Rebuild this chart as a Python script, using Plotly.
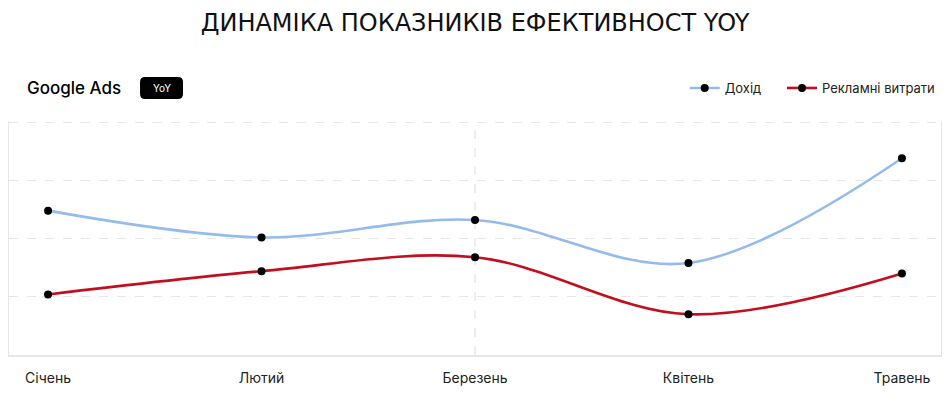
import plotly.graph_objects as go

# Data
months = ["Січень", "Лютий", "Березень", "Квітень", "Травень"]
revenue = [62, 50.5, 58, 39.5, 84.5]      # Дохід
ad_spend = [26, 36, 42, 17.5, 35]         # Рекламні витрати

series_names = ["Дохід", "Рекламні витрати"]
series_colors = ["#95bbeb", "#c20f1f"]
legend_ids = ["legend", "legend2"]

font_main = "Inter, Lato, sans-serif"

fig = go.Figure()

for name, vals, color, lg in zip(series_names, [revenue, ad_spend], series_colors, legend_ids):
    fig.add_trace(go.Scatter(
        x=months,
        y=vals,
        name=name,
        legend=lg,
        mode="lines+markers",
        line=dict(color=color, width=2.6, shape="spline", smoothing=1),
        marker=dict(color="black", size=8),
        hovertemplate=f"{name}: %{{y}}<extra></extra>",
    ))

# vertical dashed guide at the middle month
fig.add_shape(
    type="line", xref="x", yref="paper",
    x0=months[2], x1=months[2], y0=0, y1=1,
    line=dict(color="#e2e2e2", width=1.2, dash="dash"),
    layer="below",
)

# "YoY" badge (rounded rectangle)
x0, x1 = 0.1406, 0.1867
y0, y1 = 1.094, 1.188
rx, ry = 0.0054, 0.0214
badge_path = (
    f"M {x0+rx},{y0} L {x1-rx},{y0} Q {x1},{y0} {x1},{y0+ry} "
    f"L {x1},{y1-ry} Q {x1},{y1} {x1-rx},{y1} "
    f"L {x0+rx},{y1} Q {x0},{y1} {x0},{y1-ry} "
    f"L {x0},{y0+ry} Q {x0},{y0} {x0+rx},{y0} Z"
)
fig.add_shape(type="path", xref="paper", yref="paper", path=badge_path,
              fillcolor="black", line=dict(width=0))

fig.add_annotation(
    text="YoY", xref="paper", yref="paper",
    x=(x0 + x1) / 2, y=(y0 + y1) / 2, xanchor="center", yanchor="middle",
    showarrow=False,
    font=dict(family=font_main, size=10, color="white"),
)
fig.add_annotation(
    text="Google Ads", xref="paper", yref="paper",
    x=0.017, y=1.141, xanchor="left", yanchor="middle", showarrow=False,
    font=dict(family=font_main, size=17, color="black", weight=500),
)

legend_style = dict(
    orientation="h", xanchor="left", y=1.141, yanchor="middle",
    font=dict(family=font_main, size=13, color="#222222"),
    itemwidth=30,
)

# page body has an 8px margin, so the figure is sized to fit inside it
fig.update_layout(
    width=942,
    height=397,
    margin=dict(l=1, r=9, t=113, b=50),
    paper_bgcolor="white",
    plot_bgcolor="white",
    title=dict(
        text="ДИНАМІКА ПОКАЗНИКІВ ЕФЕКТИВНОСТ YOY",
        x=0.4958, xanchor="center", y=0.962, yanchor="middle",
        font=dict(family="DejaVu Sans", size=24, color="#111111"),
    ),
    showlegend=True,
    legend=dict(x=0.725, **legend_style),
    legend2=dict(x=0.8294, **legend_style),
    xaxis=dict(
        type="category",
        range=[-0.183, 4.183],
        showgrid=False,
        showline=True, linecolor="#e6e6e6", linewidth=1.5,
        ticks="outside", ticklen=9, tickcolor="rgba(0,0,0,0)",
        tickfont=dict(family=font_main, size=14, color="#222222"),
        zeroline=False,
    ),
    yaxis=dict(
        range=[0, 100.5],
        dtick=25,
        showticklabels=False,
        showgrid=True, gridcolor="#e6e6e6", griddash="dash", gridwidth=1.2,
        showline=True, mirror=True, linecolor="#e6e6e6", linewidth=1.5,
        zeroline=False,
    ),
)

fig.write_html("out.html")
